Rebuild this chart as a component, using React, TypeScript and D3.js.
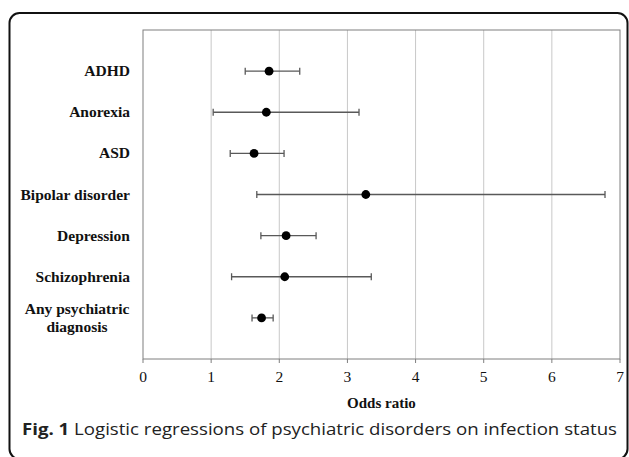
import React from "react";
import * as d3 from "d3";

const categories = ["ADHD", "Anorexia", "ASD", "Bipolar disorder", "Depression", "Schizophrenia", "Any psychiatric diagnosis"];
const oddsRatio = [1.85, 1.81, 1.63, 3.27, 2.10, 2.08, 1.74];
const ciLow = [1.50, 1.03, 1.28, 1.67, 1.73, 1.30, 1.60];
const ciHigh = [2.30, 3.17, 2.07, 6.78, 2.54, 3.35, 1.91];
const xTicks = [0, 1, 2, 3, 4, 5, 6, 7];
const xTitle = "Odds ratio";
const captionBold = "Fig. 1";
const captionText = " Logistic regressions of psychiatric disorders on infection status";

const W = 629, H = 457;
const left = 143, right = 620, top = 30, bottom = 359;

export default function App() {
  const x = d3.scaleLinear().domain([0, 7]).range([left, right]);
  const y = d3.scaleLinear().domain([0, categories.length + 1]).range([bottom, top]);
  const rowY = (i: number) => y(categories.length - i);
  const serif = "'Liberation Serif', 'Times New Roman', serif";
  return (
    <svg width={W} height={H} style={{ position: "absolute", left: 0, top: 0, background: "#fff" }}>
      <rect x={9.5} y={13} width={618} height={446} rx={10} ry={10} fill="#fff" stroke="#111" strokeWidth={2} />
      {xTicks.slice(1, -1).map((t) => (
        <line key={"g" + t} x1={x(t)} x2={x(t)} y1={top} y2={bottom} stroke="#c8c8c8" strokeWidth={1} />
      ))}
      <rect x={left} y={top} width={right - left} height={bottom - top} fill="none" stroke="#7f7f7f" strokeWidth={1} />
      {xTicks.map((t) => (
        <g key={"t" + t}>
          <line x1={x(t)} x2={x(t)} y1={bottom} y2={bottom + 4} stroke="#7f7f7f" strokeWidth={1} />
          <text x={x(t)} y={bottom + 23} textAnchor="middle" fontFamily={serif} fontSize={15.5} fill="#111">{t}</text>
        </g>
      ))}
      <text x={(left + right) / 2} y={408} textAnchor="middle" fontFamily={serif} fontWeight="bold" fontSize={15} fill="#111">{xTitle}</text>
      {categories.map((c, i) => {
        const yy = rowY(i);
        return (
          <g key={c}>
            <line x1={x(ciLow[i])} x2={x(ciHigh[i])} y1={yy} y2={yy} stroke="#595959" strokeWidth={1.3} />
            <line x1={x(ciLow[i])} x2={x(ciLow[i])} y1={yy - 3.5} y2={yy + 3.5} stroke="#595959" strokeWidth={1.3} />
            <line x1={x(ciHigh[i])} x2={x(ciHigh[i])} y1={yy - 3.5} y2={yy + 3.5} stroke="#595959" strokeWidth={1.3} />
            <circle cx={x(oddsRatio[i])} cy={yy} r={4.4} fill="#000" />
          </g>
        );
      })}
      {categories.map((c, i) => {
        const yy = rowY(i);
        if (c === "Any psychiatric diagnosis") {
          return (
            <text key={"l" + c} textAnchor="middle" fontFamily={serif} fontWeight="bold" fontSize={15.5} fill="#111">
              <tspan x={77} y={yy - 4}>Any psychiatric</tspan>
              <tspan x={77} y={yy + 14}>diagnosis</tspan>
            </text>
          );
        }
        return (
          <text key={"l" + c} x={130} y={yy + 5} textAnchor="end" fontFamily={serif} fontWeight="bold" fontSize={15.5} fill="#111">{c}</text>
        );
      })}
      <text x={22} y={435} fontFamily="'Open Sans', 'Noto Sans', sans-serif" fontSize={16.5} fill="#222" textLength={595} lengthAdjust="spacingAndGlyphs">
        <tspan fontWeight="bold">{captionBold}</tspan>
        <tspan fontWeight="normal">{captionText}</tspan>
      </text>
    </svg>
  );
}
